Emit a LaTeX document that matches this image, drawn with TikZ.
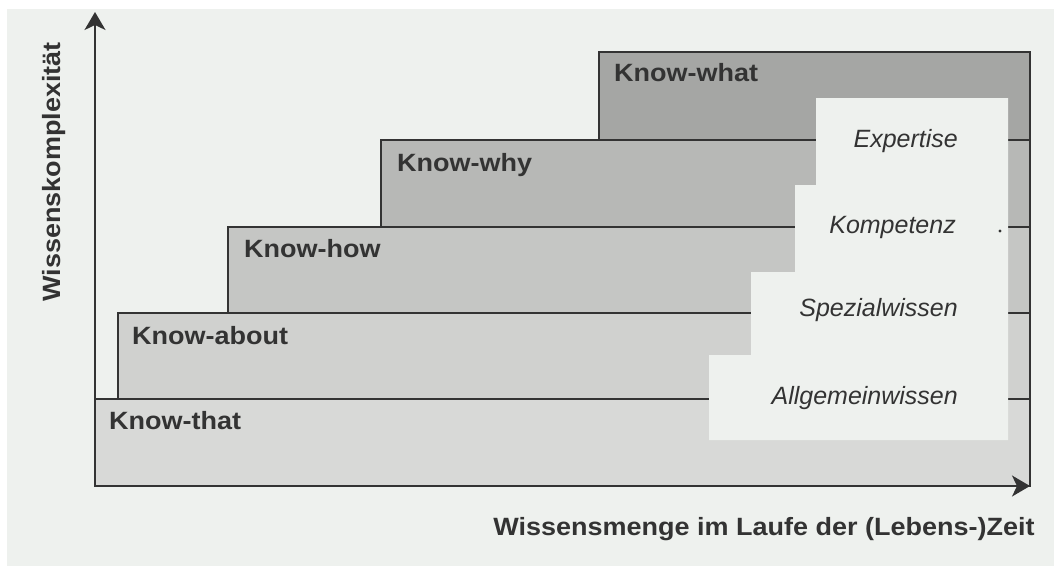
\documentclass[tikz,border=0pt]{standalone}
\usepackage{fontspec}
\setmainfont{Liberation Sans}
\newfontfamily\widesans{Liberation Sans}[FakeStretch=1.08]
\usetikzlibrary{arrows.meta}
\definecolor{paper}{HTML}{EEF1EE}
\definecolor{ink}{HTML}{333333}
\definecolor{lvA}{HTML}{D8D9D7}
\definecolor{lvB}{HTML}{D0D1CF}
\definecolor{lvC}{HTML}{C5C6C4}
\definecolor{lvD}{HTML}{B7B8B6}
\definecolor{lvE}{HTML}{A5A6A4}
\begin{document}
\begin{tikzpicture}[x=1pt,y=-1pt,
  band/.style={draw=ink, line width=1.5pt},
  steplabel/.style={anchor=base west, inner sep=0pt, text=ink,
    font=\widesans\bfseries\fontsize{25}{29}\selectfont},
  kindlabel/.style={anchor=base east, inner sep=0pt, text=ink,
    font=\itshape\fontsize{25}{30}\selectfont},
  axislabel/.style={anchor=base, inner sep=0pt, text=ink,
    font=\widesans\bfseries\fontsize{25}{29}\selectfont},
  axisline/.style={draw=ink, line width=2pt,
    -{Stealth[length=18pt,width=21pt,inset=5pt]}}]
\useasboundingbox (0,0) rectangle (1054,573);
% page and paper tone
\fill[white] (0,0) rectangle (1054,573);
\fill[paper] (7,9) rectangle (1054,566);

% knowledge levels, from the bottom up
\filldraw[band, fill=lvA] (95,399) rectangle (1030,486);
\filldraw[band, fill=lvB] (118,313) rectangle (1030,399);
\filldraw[band, fill=lvC] (228,227) rectangle (1030,313);
\filldraw[band, fill=lvD] (381,140) rectangle (1030,227);
\filldraw[band, fill=lvE] (599,52) rectangle (1030,140);

% stepped panel for the kinds of knowledge
\fill[paper] (816,98) -- (1008,98) -- (1008,440) -- (709,440) -- (709,355)
  -- (751,355) -- (751,272) -- (795,272) -- (795,185) -- (816,185) -- cycle;
\fill[ink] (1000,231) circle (1.6pt);

% axes
\coordinate (O) at (95,486);
\coordinate (ytip) at (95,12);
\coordinate (xtip) at (1030,486);
\draw[axisline] (O) -- (ytip);
\draw[axisline] (O) -- (xtip);

% level names
\node[steplabel] (what)  at (614,81)  {Know-what};
\node[steplabel] (why)   at (397,171) {Know-why};
\node[steplabel] (how)   at (244,257) {Know-how};
\node[steplabel] (about) at (132,344) {Know-about};
\node[steplabel] (that)  at (109,429) {Know-that};

% kinds of knowledge
\node[kindlabel] (expertise) at (958,147) {Expertise};
\node[kindlabel] (kompetenz) at (956,233) {Kompetenz};
\node[kindlabel] (spezial)   at (958,316) {Spezialwissen};
\node[kindlabel] (allgemein) at (958,404) {Allgemeinwissen};

% axis titles
\node[axislabel] (xlabel) at (764,535) {Wissensmenge im Laufe der (Lebens-)Zeit};
\node[axislabel, rotate=90] (ylabel) at (60,172) {Wissenskomplexität};
\end{tikzpicture}
\end{document}
